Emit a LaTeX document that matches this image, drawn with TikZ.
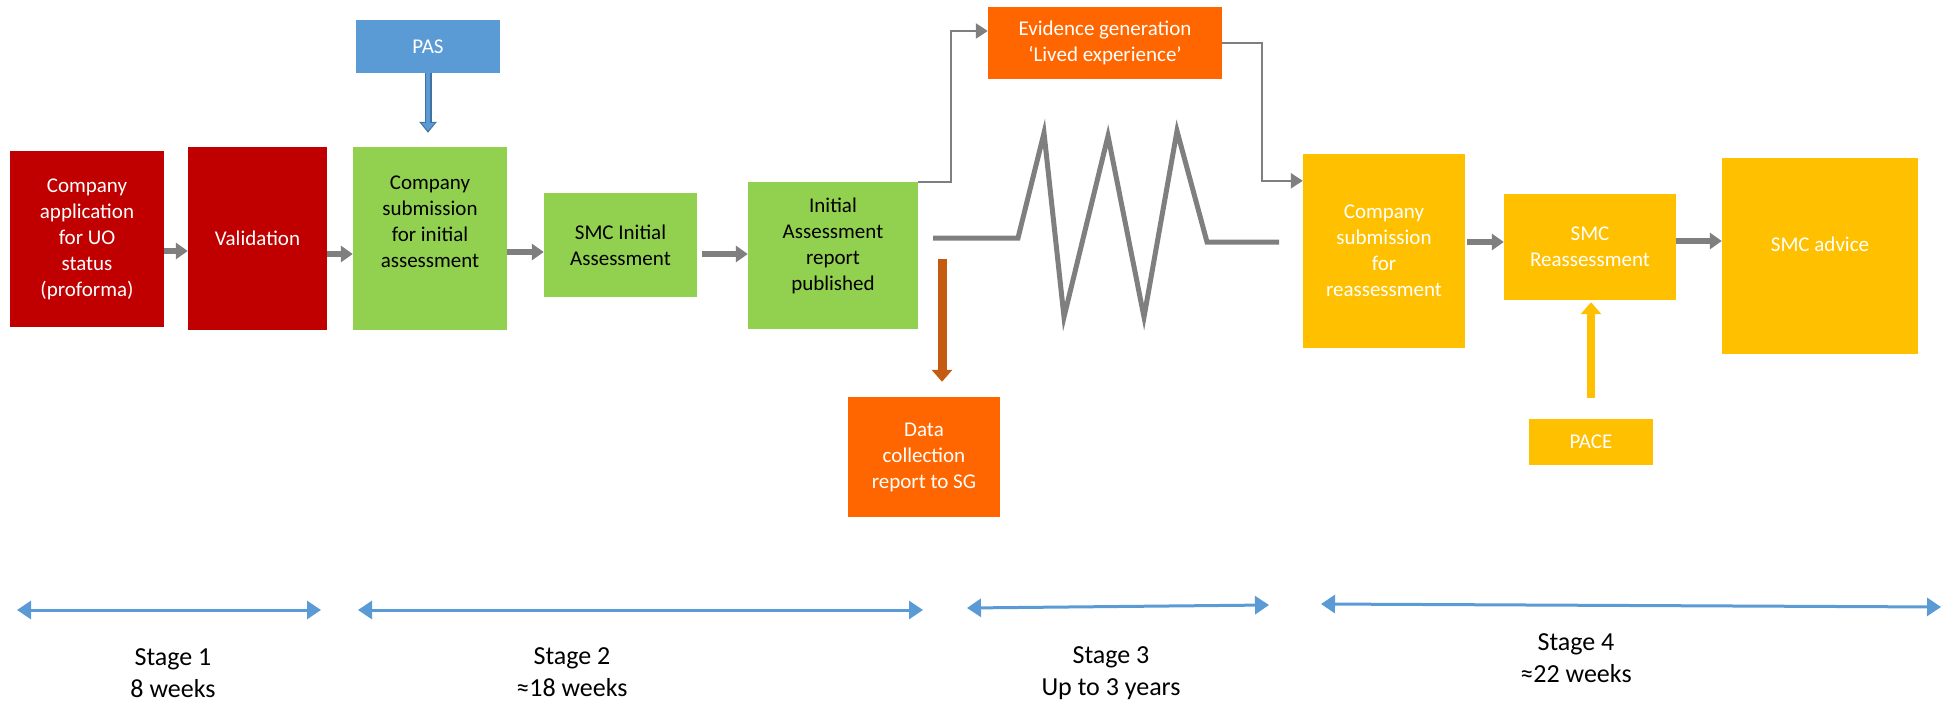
\documentclass[tikz,border=0pt]{standalone}
\usepackage{fontspec}
\setmainfont{Carlito}
\usetikzlibrary{arrows.meta}
\definecolor{boxred}{HTML}{C00000}
\definecolor{boxgreen}{HTML}{92D050}
\definecolor{boxblue}{HTML}{5B9BD5}
\definecolor{darkblue}{HTML}{41719C}
\definecolor{boxorange}{HTML}{FF6600}
\definecolor{boxyellow}{HTML}{FFC000}
\definecolor{arrgray}{HTML}{7F7F7F}
\definecolor{arrbrown}{HTML}{C55A11}
\begin{document}
\begin{tikzpicture}[
                    x=1pt, y=-1pt,
                    box/.style={rectangle, inner sep=0pt, align=center, font=\fontsize{21}{26}\selectfont},
                    blockarr/.style={arrgray, line width=6pt, -{Triangle[length=12pt,width=16pt]}},
                    thinarr/.style={arrgray, line width=2.5pt, -{Triangle[length=12pt,width=15pt]}},
                    stagearr/.style={boxblue, line width=3pt, {Triangle[length=14pt,width=18pt]}-{Triangle[length=14pt,width=18pt]}},
                    stagetext/.style={align=center, inner sep=0pt, anchor=base, font=\fontsize{26}{32}\selectfont}
                    ]
                    \useasboundingbox (0,0) rectangle (1951,704);

                    % stage 1
                    \node [box, fill=boxred, text=white, minimum width=154pt, minimum height=176pt] (app) at (87,239) {Company\\application\\for UO\\status\\(proforma)};
                    \node [box, fill=boxred, text=white, minimum width=139pt, minimum height=183pt] (valid) at (257.5,238.5) {Validation};

                    % stage 2
                    \node [box, fill=boxgreen, minimum width=154pt, minimum height=183pt] (sub) at (430,238.5) {};
                    \node [box, yshift=17pt] (subtext) at (sub) {Company\\submission\\for initial\\assessment};
                    \node [box, fill=boxblue, text=white, minimum width=144pt, minimum height=53pt] (pas) at (428,46.5) {PAS};
                    \node [box, fill=boxgreen, minimum width=153pt, minimum height=104pt] (smci) at (620.5,245) {SMC Initial\\Assessment};
                    \node [box, fill=boxgreen, minimum width=170pt, minimum height=147pt] (ia) at (833,255.5) {};
                    \node [box, yshift=10pt] (iatext) at (ia) {Initial\\Assessment\\report\\published};
                    \node [box, fill=boxorange, text=white, minimum width=152pt, minimum height=120pt] (data) at (924,457) {Data\\collection\\report to SG};

                    % stage 3
                    \node [box, fill=boxorange, text=white, minimum width=234pt, minimum height=72pt] (ev) at (1105,43) {Evidence generation\\‘Lived experience’};
                    \draw [arrgray, line width=5pt] (933,238) -- (1018,238) -- (1044,133) -- (1064,317) -- (1108,136) -- (1144,317) -- (1177,131) -- (1207,242) -- (1279,242);

                    % stage 4
                    \node [box, fill=boxyellow, text=white, minimum width=162pt, minimum height=194pt] (csr) at (1384,251) {Company\\submission\\for\\reassessment};
                    \node [box, fill=boxyellow, text=white, minimum width=172pt, minimum height=106pt] (smcr) at (1590,247) {SMC\\Reassessment};
                    \node [box, fill=boxyellow, minimum width=196pt, minimum height=196pt] (adv) at (1820,256) {};
                    \node [box, text=white, yshift=12pt] (advtext) at (adv) {SMC advice};
                    \node [box, fill=boxyellow, text=white, minimum width=124pt, minimum height=46pt] (pace) at (1591,442) {PACE};

                    \draw [blockarr] ([yshift=-12pt]app.east) -- ([yshift=-12pt]app.east -| valid.west);
                    \draw [blockarr] ([yshift=-15.5pt]valid.east) -- ([yshift=-15.5pt]valid.east -| sub.west);
                    \draw [blockarr] ([yshift=-13.5pt]sub.east) -- ([yshift=-13.5pt]sub.east -| smci.west);
                    \draw [blockarr, shorten <=5pt] ([yshift=-9pt]smci.east) -- ([yshift=-9pt]smci.east -| ia.west);
                    \draw [blockarr, shorten <=2pt] ([yshift=9pt]csr.east) -- ([yshift=9pt]csr.east -| smcr.west);
                    \draw [blockarr] ([yshift=6pt]smcr.east) -- ([yshift=6pt]smcr.east -| adv.west);

                    \draw [thinarr] (ia.north east) -- ++(33,0) |- ([yshift=12pt]ev.west);
                    \draw [thinarr] (ev.east) -- ++(40,0) |- ([yshift=-27pt]csr.north west);

                    \draw [darkblue, line width=7pt, shorten >=14pt, -{Triangle[length=11pt,width=17pt]}] (pas.south) -- (pas.south |- sub.north);
                    \draw [boxblue, line width=4pt, shorten >=16pt, -{Triangle[length=8pt,width=13pt]}] (pas.south) -- (pas.south |- sub.north);
                    \draw [boxyellow, line width=8pt, shorten <=21pt, shorten >=2pt, -{Triangle[length=12pt,width=20pt]}] (pace.north) -- (pace.north |- smcr.south);
                    \coordinate (dstart) at (942,259);
                    \draw [arrbrown, line width=9pt, shorten >=15pt, -{Triangle[length=12pt,width=20pt]}] (dstart) -- (dstart |- data.north);

                    % time line
                    \foreach \i/\xa/\ya/\xb/\yb in {1/17/610/321/610, 2/358/610/923/610, 3/967/608/1269/605, 4/1321/604/1941/607} {
                        \coordinate (s\i l) at (\xa,\ya);
                        \coordinate (s\i r) at (\xb,\yb);
                        \draw [stagearr] (s\i l) -- (s\i r);
                    }
                    \node [stagetext] (st1) at (173,697) {Stage 1\\8 weeks};
                    \node [stagetext] (st2) at (572,696) {Stage 2\\≈18 weeks};
                    \node [stagetext] (st3) at (1111,695) {Stage 3\\Up to 3 years};
                    \node [stagetext] (st4) at (1576,682) {Stage 4\\≈22 weeks};
                \end{tikzpicture}
\end{document}
